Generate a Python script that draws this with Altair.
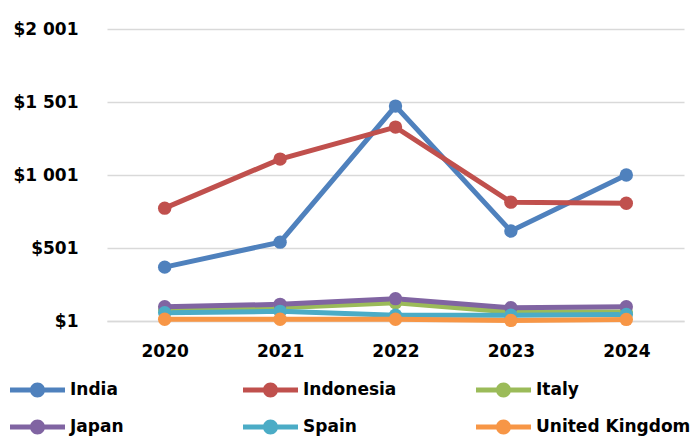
import altair as alt
import pandas as pd

years = ["2020", "2021", "2022", "2023", "2024"]
countries = ["India", "Indonesia", "Italy", "Japan", "Spain", "United Kingdom"]
colors = ["#4F81BD", "#C0504D", "#9BBB59", "#8064A2", "#4BACC6", "#F79646"]

india = [370, 541, 1473, 617, 1001]
indonesia = [774, 1110, 1329, 815, 808]
italy = [76, 92, 126, 62, 62]
japan = [99, 115, 154, 92, 99]
spain = [58, 67, 40, 40, 46]
uk = [13, 13, 13, 5, 12]

series = [india, indonesia, italy, japan, spain, uk]
rows = []
for c, vals in zip(countries, series):
    for y, v in zip(years, vals):
        rows.append({"Year": y, "Country": c, "Value": v})
df = pd.DataFrame(rows)

FONT = "DejaVu Sans"
FS = 17

sym_path = ("M-1,-0.091L1,-0.091L1,0.091L-1,0.091Z "
            "M-0.273,0A0.273,0.273,0,1,1,0.273,0A0.273,0.273,0,1,1,-0.273,0Z")

x_enc = alt.X("Year:O", scale=alt.Scale(type="point", padding=0.5),
              axis=alt.Axis(title=None, labelAngle=0, labelFont=FONT, labelFontSize=FS,
                            labelFontWeight="bold", labelColor="#000000", ticks=False,
                            domain=True, domainColor="#D9D9D9", domainWidth=1.3,
                            labelPadding=22, grid=False))
y_enc = alt.Y("Value:Q", scale=alt.Scale(domain=[1, 2001], nice=False, zero=False),
              axis=alt.Axis(title=None, values=[1, 501, 1001, 1501, 2001],
                            labelExpr="replace(format(datum.value, '$,'), ',', ' ')",
                            grid=True, gridColor="#D9D9D9", gridWidth=1.3, domain=False,
                            ticks=False, labelPadding=29, labelFont=FONT, labelFontSize=FS,
                            labelFontWeight="bold", labelColor="#000000"))
color_scale = alt.Scale(domain=countries, range=colors)
legend = alt.Legend(title=None, orient="none", legendX=-97, legendY=351,
                    direction="horizontal", columns=3, gridAlign="all", columnPadding=18,
                    rowPadding=17, clipHeight=20, symbolType=sym_path, symbolSize=3025,
                    symbolStrokeWidth=0, labelFont=FONT, labelFontSize=FS,
                    labelFontWeight="bold", labelColor="#000000",
                    labelOffset=5, labelLimit=300)

lines = alt.Chart(df).mark_line(strokeWidth=5).encode(
    x=x_enc, y=y_enc,
    color=alt.Color("Country:N", scale=color_scale, legend=legend),
)
points = alt.Chart(df).mark_circle(size=180, opacity=1).encode(
    x=x_enc, y=y_enc,
    color=alt.Color("Country:N", scale=color_scale, legend=legend),
)

chart = (lines + points).properties(
    width=577, height=292,
    autosize=alt.AutoSizeParams(type="none"),
    padding={"left": 107, "top": 29, "right": 13, "bottom": 116},
    background="#FFFFFF",
).configure_view(stroke=None)

chart.save("out.html", embed_options={"renderer": "svg", "actions": False})
